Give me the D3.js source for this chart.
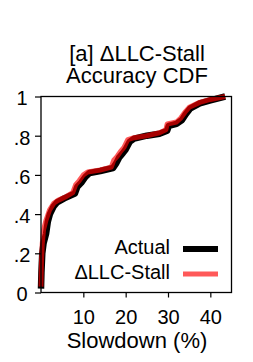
<!DOCTYPE html>
<html>
<head>
<meta charset="utf-8">
<script src="https://cdn.jsdelivr.net/npm/d3@7"></script>
<style>
  body { margin: 0; background: #fff; }
  text { font-family: "Liberation Sans", Arial, Helvetica, sans-serif; fill: #000; }
</style>
</head>
<body>
<div id="chart"></div>
<script>
// CDF breakpoints: slowdown (%) and cumulative fraction
var actualX = [0.0, 0.1, 0.3, 0.6, 1.2, 1.6, 2.1, 3.0, 3.8, 5.5, 8.0, 8.6, 9.5, 10.5, 11.5, 14.0, 17.0, 17.8, 18.5, 19.3, 20.0, 21.0, 22.0, 25.0, 28.0, 29.8, 30.2, 32.0, 33.3, 34.2, 35.3, 37.5, 40.0, 43.5];
var actualP = [0.02, 0.10, 0.20, 0.25, 0.30, 0.36, 0.40, 0.44, 0.46, 0.48, 0.505, 0.54, 0.56, 0.59, 0.61, 0.62, 0.635, 0.66, 0.69, 0.71, 0.73, 0.77, 0.785, 0.80, 0.81, 0.825, 0.85, 0.86, 0.88, 0.91, 0.94, 0.965, 0.98, 1.0];

var stallX = [0.0, 0.1, 0.3, 0.6, 1.2, 2.0, 3.0, 4.0, 6.0, 7.5, 8.2, 9.0, 10.0, 11.0, 14.0, 16.6, 17.2, 18.0, 18.8, 19.6, 20.5, 22.0, 25.0, 28.0, 29.5, 29.8, 32.0, 33.0, 34.0, 35.0, 37.5, 40.0, 43.5];
var stallP = [0.03, 0.15, 0.25, 0.32, 0.37, 0.42, 0.455, 0.47, 0.49, 0.51, 0.55, 0.57, 0.60, 0.615, 0.625, 0.64, 0.675, 0.695, 0.72, 0.74, 0.78, 0.79, 0.80, 0.815, 0.83, 0.86, 0.87, 0.89, 0.92, 0.945, 0.97, 0.985, 1.0];

var xTicks = [10, 20, 30, 40];
var yTicks = [0, 0.2, 0.4, 0.6, 0.8, 1];
var yTickLabels = ["0", ".2", ".4", ".6", ".8", "1"];
var seriesNames = ["Actual", "\u0394LLC-Stall"];

var width = 253, height = 362;
var plotLeft = 41, plotRight = 231.5, plotTop = 96.5, plotBottom = 292.5;

var svg = d3.select("#chart").append("svg")
    .attr("width", width)
    .attr("height", height);

var x = d3.scaleLinear().domain([0, 45]).range([plotLeft, plotRight]);
var y = d3.scaleLinear().domain([0, 1]).range([plotBottom, plotTop]);

// title
svg.append("text").attr("x", 137).attr("y", 61)
    .attr("text-anchor", "middle").style("font-size", "22px")
    .text("[a] \u0394LLC-Stall");
svg.append("text").attr("x", 137).attr("y", 83)
    .attr("text-anchor", "middle").style("font-size", "22px")
    .text("Accuracy CDF");

// curves
var line = d3.line()
    .x(function(d) { return x(d[0]); })
    .y(function(d) { return y(d[1]); });

var actual = d3.zip(actualX, actualP);
var stall = d3.zip(stallX, stallP);

svg.append("path")
    .datum(actual)
    .attr("d", line)
    .attr("fill", "none")
    .attr("stroke", "#000")
    .attr("stroke-width", 6.5)
    .attr("stroke-linejoin", "round");

svg.append("path")
    .datum(stall)
    .attr("d", line)
    .attr("fill", "none")
    .attr("stroke", "#ff0000")
    .attr("stroke-opacity", 0.65)
    .attr("stroke-width", 5)
    .attr("stroke-linejoin", "round");

// frame
svg.append("rect")
    .attr("x", plotLeft).attr("y", plotTop)
    .attr("width", plotRight - plotLeft).attr("height", plotBottom - plotTop)
    .attr("fill", "none").attr("stroke", "#000").attr("stroke-width", 1.3);

// x axis
var xAxis = svg.append("g")
    .attr("transform", "translate(0," + plotBottom + ")")
    .call(d3.axisBottom(x).tickValues(xTicks).tickSize(5).tickPadding(12));
xAxis.select(".domain").remove();
xAxis.selectAll("line").attr("stroke", "#000").attr("stroke-width", 1.2);
xAxis.selectAll("text").style("font-size", "20px").attr("fill", "#000");

// y axis: labels centred left of the ticks
var yAxis = svg.append("g")
    .attr("transform", "translate(" + plotLeft + ",0)")
    .call(d3.axisLeft(y).tickValues(yTicks).tickSize(6)
        .tickFormat(function(d, i) { return yTickLabels[i]; }));
yAxis.select(".domain").remove();
yAxis.selectAll("line").attr("stroke", "#000").attr("stroke-width", 1.2);
yAxis.selectAll("text")
    .style("font-size", "20px").attr("fill", "#000")
    .attr("text-anchor", "middle")
    .attr("x", -19).attr("dy", "0.42em");

// x label
svg.append("text").attr("x", 137).attr("y", 348)
    .attr("text-anchor", "middle").style("font-size", "22px")
    .text("Slowdown (%)");

// legend
var legend = svg.append("g");
var legendColors = ["#000", "#ff0000"];
var legendOpacity = [1, 0.65];
seriesNames.forEach(function(name, i) {
    var ly = 254 + i * 25;
    legend.append("text").attr("x", 170).attr("y", ly)
        .attr("text-anchor", "end").style("font-size", "20px")
        .text(name);
    legend.append("line")
        .attr("x1", 183).attr("x2", 218)
        .attr("y1", ly - 5).attr("y2", ly - 5)
        .attr("stroke", legendColors[i])
        .attr("stroke-opacity", legendOpacity[i])
        .attr("stroke-width", i == 0 ? 6 : 5);
});
</script>
</body>
</html>
